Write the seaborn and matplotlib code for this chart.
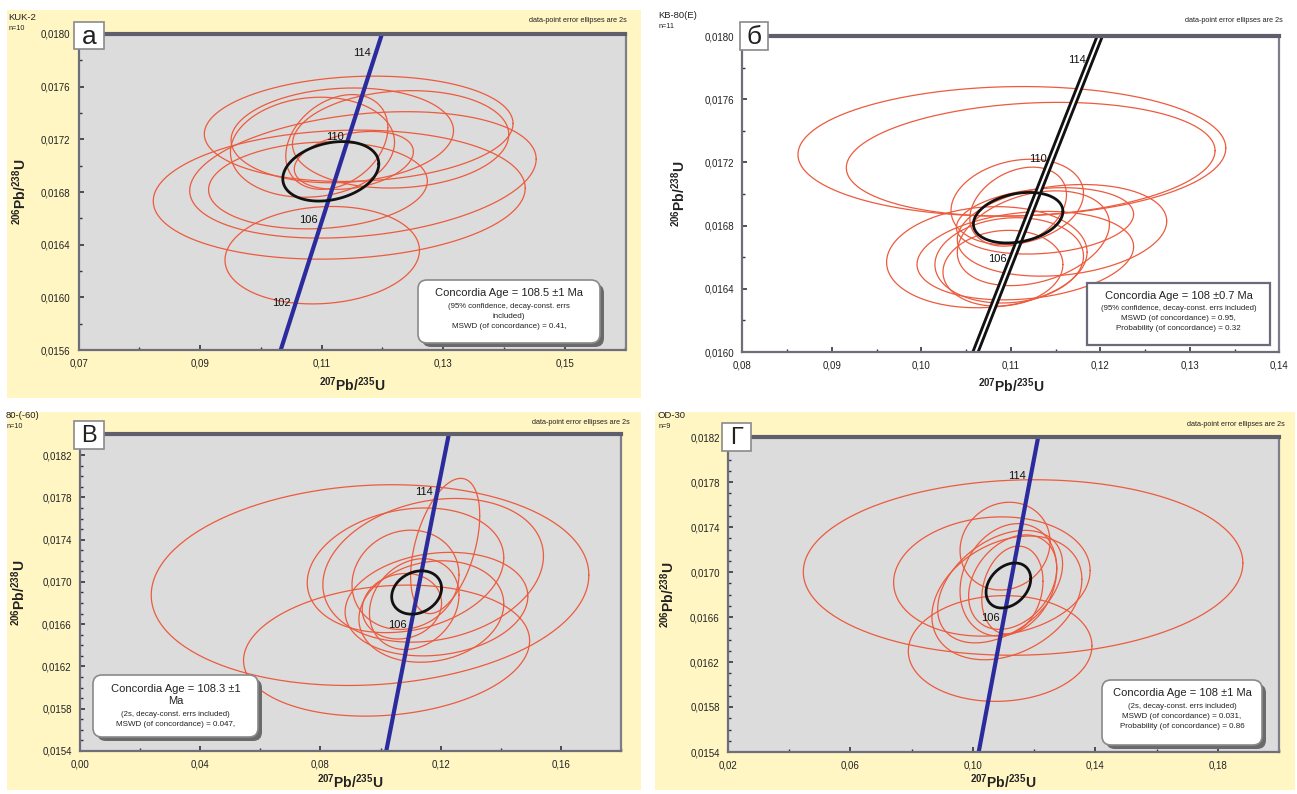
import numpy as np
import pandas as pd
import matplotlib
matplotlib.use("Agg")
import matplotlib.pyplot as plt
import seaborn as sns
from matplotlib.patches import Rectangle, FancyBboxPatch
from matplotlib.ticker import MultipleLocator, FixedLocator, FuncFormatter

# ---------------- data ----------------
LAMBDA_238 = 1.55125e-10
LAMBDA_235 = 9.8485e-10
CURVE_AGES_MA = np.linspace(90, 125, 240)

# panel а  (KUK-2, n=10)
A_X = [0.1161, 0.1134, 0.1230, 0.1125, 0.1129, 0.1168, 0.1094, 0.1101, 0.1153, 0.1085]
A_Y = [0.01728, 0.01723, 0.01720, 0.01718, 0.01678, 0.01693, 0.01685, 0.01632, 0.01704, 0.01714]
A_SX = [0.0254, 0.0183, 0.0178, 0.0084, 0.0306, 0.0285, 0.0180, 0.0160, 0.0098, 0.0135]
A_SY = [0.00040, 0.00036, 0.00037, 0.00036, 0.00049, 0.00048, 0.00033, 0.00037, 0.00022, 0.00038]
A_RHO = [0.1, 0.1, 0.1, 0.3, 0.1, 0.25, 0.1, 0.1, 0.3, 0.1]
A_MEAN = [0.11151, 0.016957, 0.0079, 0.000226, 0.25]
A_AGES = [102, 106, 110, 114]

# panel б  (KB-80(E), n=11)
B_X = [0.1101, 0.1122, 0.1107, 0.1108, 0.1157, 0.1138, 0.1073, 0.1116, 0.1098, 0.1091, 0.1125]
B_Y = [0.01727, 0.01722, 0.01695, 0.01692, 0.01677, 0.01683, 0.01660, 0.01661, 0.01658, 0.01653, 0.01672]
B_SX = [0.0239, 0.0206, 0.0074, 0.0054, 0.0117, 0.0099, 0.0112, 0.0121, 0.0083, 0.0067, 0.0085]
B_SY = [0.00041, 0.00036, 0.00027, 0.00025, 0.00029, 0.00021, 0.00032, 0.00028, 0.00027, 0.00024, 0.00030]
B_RHO = [0.05, 0.15, 0.2, 0.3, 0.2, 0.2, 0.1, 0.2, 0.1, 0.1, 0.3]
B_MEAN = [0.1108, 0.01685, 0.0050, 0.00016, 0.25]
B_AGES = [106, 110, 114]

# panel в  (80-(-60), n=10)
C_X = [0.0965, 0.1020, 0.1215, 0.1083, 0.1175, 0.1083, 0.1186, 0.1169, 0.1112, 0.1071]
C_Y = [0.01697, 0.01635, 0.01734, 0.01711, 0.01711, 0.01702, 0.01679, 0.01672, 0.01679, 0.01677]
C_SX = [0.0728, 0.0476, 0.0115, 0.0327, 0.0367, 0.0178, 0.0304, 0.0241, 0.0149, 0.0132]
C_SY = [0.00095, 0.00062, 0.00064, 0.00059, 0.00068, 0.00047, 0.00049, 0.00048, 0.00043, 0.00031]
C_RHO = [0.1, 0.15, 0.45, 0.2, 0.2, 0.1, 0.15, 0.15, 0.2, 0.1]
C_MEAN = [0.1120, 0.01690, 0.0083, 0.000205, 0.2]
C_AGES = [106, 114]

# panel г  (OD-30, n=9)
D_X = [0.1164, 0.1105, 0.1062, 0.1089, 0.1111, 0.1089, 0.1116, 0.1130, 0.1129]
D_Y = [0.01704, 0.01723, 0.01696, 0.01632, 0.01677, 0.01687, 0.01693, 0.01691, 0.01684]
D_SX = [0.0718, 0.0147, 0.0321, 0.0300, 0.0245, 0.0204, 0.0158, 0.0144, 0.0100]
D_SY = [0.00078, 0.00039, 0.00053, 0.00047, 0.00055, 0.00050, 0.00050, 0.00042, 0.00039]
D_RHO = [0.05, 0.1, 0.1, 0.05, 0.3, 0.4, 0.2, 0.3, 0.2]
D_MEAN = [0.1116, 0.01688, 0.0073, 0.000200, 0.3]
D_AGES = [106, 114]

PANEL_LETTERS = ["а", "б", "В", "Г"]
SAMPLE_NAMES = ["KUK-2", "KB-80(E)", "80-(-60)", "OD-30"]
SAMPLE_N = ["n=10", "n=11", "n=10", "n=9"]
BOX_TEXTS = [
    ["Concordia Age = 108.5 ±1 Ma", "(95% confidence, decay-const. errs", "included)", "MSWD (of concordance) = 0.41,"],
    ["Concordia Age = 108 ±0.7 Ma", "(95% confidence, decay-const. errs included)", "MSWD (of concordance) = 0.95,", "Probability (of concordance) = 0.32"],
    ["Concordia Age = 108.3 ±1", "Ma", "(2s, decay-const. errs included)", "MSWD (of concordance) = 0.047,"],
    ["Concordia Age = 108 ±1 Ma", "(2s, decay-const. errs included)", "MSWD (of concordance) = 0.031,", "Probability (of concordance) = 0.86"],
]
XLIMS = [(0.07, 0.16), (0.08, 0.14), (0.00, 0.18), (0.02, 0.20)]
YLIMS = [(0.0156, 0.0180), (0.0160, 0.0180), (0.0154, 0.0184), (0.0154, 0.0182)]
XTICKS = [[0.07, 0.09, 0.11, 0.13, 0.15],
          [0.08, 0.09, 0.10, 0.11, 0.12, 0.13, 0.14],
          [0.00, 0.04, 0.08, 0.12, 0.16],
          [0.02, 0.06, 0.10, 0.14, 0.18]]
YTICKS = [[0.0156, 0.0160, 0.0164, 0.0168, 0.0172, 0.0176, 0.0180],
          [0.0160, 0.0164, 0.0168, 0.0172, 0.0176, 0.0180],
          [0.0154, 0.0158, 0.0162, 0.0166, 0.0170, 0.0174, 0.0178, 0.0182],
          [0.0154, 0.0158, 0.0162, 0.0166, 0.0170, 0.0174, 0.0178, 0.0182]]
XMIN = [0.01, 0.005, 0.02, 0.02]
YMIN = [0.0002, 0.0002, 0.0001, 0.0001]

# ---------------- style ----------------
sns.set_theme(style="white")
plt.rcParams["font.family"] = ["Liberation Sans", "DejaVu Sans"]
plt.rcParams["mathtext.fontset"] = "custom"
plt.rcParams["mathtext.rm"] = "Liberation Sans"
plt.rcParams["mathtext.bf"] = "Liberation Sans:bold"

W, H = 1297, 794
YELLOW = "#FFF6C4"
GREY = "#DCDCDC"
RED = "#EC5B3E"
BLUE = "#2B2B9E"
FRAME = "#6E6E7A"

fig = plt.figure(figsize=(W / 100, H / 100), dpi=100)
fig.patch.set_facecolor("white")

bg = fig.add_axes([0, 0, 1, 1], zorder=0)
bg.set_xlim(0, W); bg.set_ylim(H, 0); bg.axis("off")
fg = fig.add_axes([0, 0, 1, 1], zorder=10)
fg.set_xlim(0, W); fg.set_ylim(H, 0); fg.axis("off"); fg.patch.set_alpha(0)

PANEL_BG = [(7, 10, 641, 398, YELLOW), None, (7, 412, 641, 790, YELLOW), (655, 412, 1295, 790, YELLOW)]
AX_BOX = [(78.5, 34, 625.5, 350), (742.5, 36, 1279.5, 352), (80, 434, 621, 751), (728, 437, 1279, 752)]
PLOT_BG = [GREY, "white", GREY, GREY]
CONC_STYLE = ["blue", "double", "blue", "blue"]
LETTER_BOX = [(74, 22, 104, 49), (740, 22, 768, 50), (74, 421, 104, 449), (722, 423, 751, 451)]
INFO_BOX = [(418, 280, 600, 343, True), (1087, 283, 1270, 345, False),
            (93, 675, 258, 737, True), (1102, 680, 1262, 745, True)]
YLABEL_X = [20, 679, 19, 668]
XLABEL_Y = [385, 386, 782, 782]
NAME_XY = [(8, 17), (658, 15), (6, 416), (658, 416)]
NOTE_XY = [(627, 20), (1283, 20), (630, 423), (1285, 424)]

ELL = [(A_X, A_Y, A_SX, A_SY, A_RHO, A_MEAN, A_AGES),
       (B_X, B_Y, B_SX, B_SY, B_RHO, B_MEAN, B_AGES),
       (C_X, C_Y, C_SX, C_SY, C_RHO, C_MEAN, C_AGES),
       (D_X, D_Y, D_SX, D_SY, D_RHO, D_MEAN, D_AGES)]


def ellipse_frame(xs, ys, sxs, sys_, rhos, n=240):
    t = np.linspace(0, 2 * np.pi, n)
    frames = []
    for i, (x0, y0, a, b, r) in enumerate(zip(xs, ys, sxs, sys_, rhos)):
        phi = np.arccos(r)
        frames.append(pd.DataFrame({"x": x0 + a * np.cos(t), "y": y0 + b * np.cos(t - phi), "id": i}))
    return pd.concat(frames, ignore_index=True)


def conc_xy(ages_ma):
    t = np.asarray(ages_ma, dtype=float) * 1e6
    return np.expm1(LAMBDA_235 * t), np.expm1(LAMBDA_238 * t)


yfmt = FuncFormatter(lambda v, p: f"{v:.4f}".replace(".", ","))
xfmt = FuncFormatter(lambda v, p: f"{v:.2f}".replace(".", ","))

for k in range(4):
    if PANEL_BG[k] is not None:
        x0, y0, x1, y1, c = PANEL_BG[k]
        bg.add_patch(Rectangle((x0, y0), x1 - x0, y1 - y0, fc=c, ec="none"))
    l, t, r, b = AX_BOX[k]
    ax = fig.add_axes([l / W, 1 - b / H, (r - l) / W, (b - t) / H], zorder=5)
    ax.set_facecolor(PLOT_BG[k])
    xs, ys, sxs, sys_, rhos, mean, ages = ELL[k]

    df = ellipse_frame(xs, ys, sxs, sys_, rhos)
    sns.lineplot(data=df, x="x", y="y", units="id", estimator=None, sort=False,
                 color=RED, lw=0.9, ax=ax, legend=False)

    cx, cy = conc_xy(CURVE_AGES_MA)
    if CONC_STYLE[k] == "double":
        sns.lineplot(x=cx, y=cy, sort=False, estimator=None, color="#111111", lw=5.6, ax=ax)
        sns.lineplot(x=cx, y=cy, sort=False, estimator=None, color="white", lw=1.5, ax=ax)
    else:
        sns.lineplot(x=cx, y=cy, sort=False, estimator=None, color=BLUE, lw=3.0, ax=ax)

    mdf = ellipse_frame([mean[0]], [mean[1]], [mean[2]], [mean[3]], [mean[4]])
    sns.lineplot(data=mdf, x="x", y="y", units="id", estimator=None, sort=False,
                 color="#111111", lw=2.0, ax=ax, legend=False)

    lx, ly = conc_xy(ages)
    for age, px, py in zip(ages, lx, ly):
        ax.annotate(str(age), (px, py), xytext=(-3, 1), textcoords="offset points",
                    ha="right", va="center", fontsize=8, color="#111111")

    ax.set_xlim(*XLIMS[k]); ax.set_ylim(*YLIMS[k])
    ax.xaxis.set_major_locator(FixedLocator(XTICKS[k]))
    ax.xaxis.set_minor_locator(MultipleLocator(XMIN[k]))
    ax.yaxis.set_major_locator(FixedLocator(YTICKS[k]))
    ax.yaxis.set_minor_locator(MultipleLocator(YMIN[k]))
    ax.xaxis.set_major_formatter(xfmt); ax.yaxis.set_major_formatter(yfmt)
    ax.tick_params(which="major", direction="in", length=3.5, width=1.2, colors="#333340",
                   labelsize=7, labelcolor="#222222", pad=6)
    ax.tick_params(which="minor", direction="in", length=2.2, width=1.0, colors="#333340")
    ax.tick_params(axis="x", bottom=True, which="both")
    ax.tick_params(axis="y", left=True, which="both")
    ax.set_xlabel(""); ax.set_ylabel("")
    for s in ["left", "bottom"]:
        ax.spines[s].set_color(FRAME); ax.spines[s].set_linewidth(1.6)
    ax.spines["top"].set_color("#5F5F6C"); ax.spines["top"].set_linewidth(3.0)
    ax.spines["right"].set_color("#7E7E8A"); ax.spines["right"].set_linewidth(1.6)

    # axis titles
    fg.text((l + r) / 2, XLABEL_Y[k], r"$^{\mathbf{207}}\mathbf{Pb/}^{\mathbf{235}}\mathbf{U}$",
            ha="center", va="center", fontsize=10, color="#222222")
    fg.text(YLABEL_X[k], (t + b) / 2, r"$^{\mathbf{206}}\mathbf{Pb/}^{\mathbf{238}}\mathbf{U}$",
            ha="center", va="center", fontsize=10, rotation=90, color="#222222")

    # sample name and n
    nx, ny = NAME_XY[k]
    fg.text(nx, ny, SAMPLE_NAMES[k], ha="left", va="center", fontsize=6.8, color="#222222")
    fg.text(nx + 1, ny + 11, SAMPLE_N[k], ha="left", va="center", fontsize=5.2, color="#222222")
    tx, ty = NOTE_XY[k]
    fg.text(tx, ty, "data-point error ellipses are 2s", ha="right", va="center",
            fontsize=5.2, color="#222222")

    # letter box
    bx0, by0, bx1, by1 = LETTER_BOX[k]
    fg.add_patch(Rectangle((bx0, by0), bx1 - bx0, by1 - by0, fc="white", ec="#8A8A8A", lw=1.2))
    fg.text((bx0 + bx1) / 2, (by0 + by1) / 2 + 1, PANEL_LETTERS[k], ha="center", va="center",
            fontsize=19 if k < 2 else 17, color="#222222")

    # info box
    ix0, iy0, ix1, iy1, rounded = INFO_BOX[k]
    if rounded:
        fg.add_patch(FancyBboxPatch((ix0 + 4, iy0 + 4), ix1 - ix0, iy1 - iy0,
                                    boxstyle="round,pad=0,rounding_size=9", fc="#6A6A6A", ec="none"))
        fg.add_patch(FancyBboxPatch((ix0, iy0), ix1 - ix0, iy1 - iy0,
                                    boxstyle="round,pad=0,rounding_size=9", fc="white", ec="#8A8A8A", lw=1.2))
    else:
        fg.add_patch(Rectangle((ix0, iy0), ix1 - ix0, iy1 - iy0, fc="white", ec="#6A6A78", lw=1.6))
    lines = BOX_TEXTS[k]
    midx = (ix0 + ix1) / 2
    if k == 2:
        offs = [14, 26, 39, 49]
        sizes = [8, 8, 5.6, 5.8]
    else:
        offs = [13, 26, 36, 46]
        sizes = [8, 5.6, 5.8, 5.8]
    for s, o, fs in zip(lines, offs, sizes):
        fg.text(midx, iy0 + o, s, ha="center", va="center", fontsize=fs, color="#222222")

fig.savefig("out.png", dpi=100, facecolor="white")
